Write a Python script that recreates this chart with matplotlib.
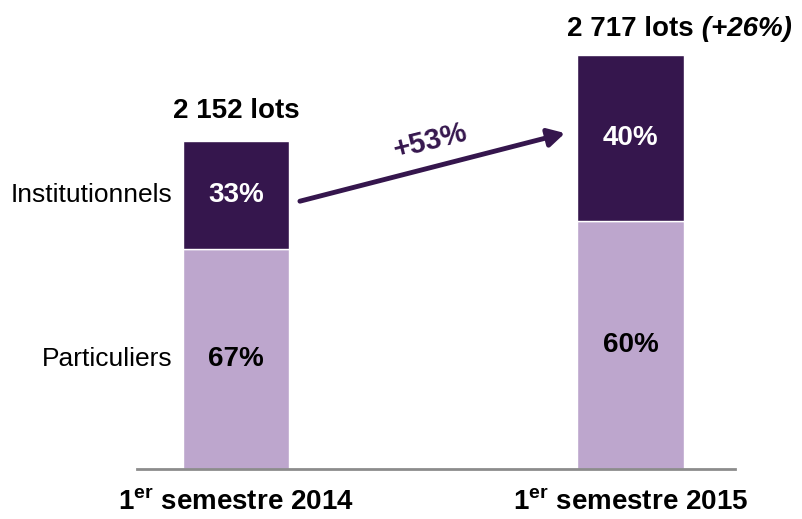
import matplotlib
matplotlib.use("Agg")
import matplotlib.pyplot as plt

plt.rcParams['font.family'] = ['Liberation Sans', 'DejaVu Sans']
plt.rcParams['mathtext.fontset'] = 'custom'
plt.rcParams['mathtext.rm'] = 'Liberation Sans:bold'
plt.rcParams['mathtext.bf'] = 'Liberation Sans:bold'

# Data
periods = ["1$^{\\mathrm{er}}$ semestre 2014", "1$^{\\mathrm{er}}$ semestre 2015"]
totals = [2152, 2717]
total_labels = ["2 152 lots", "2 717 lots"]
growth_total = " (+26%)"
pct_institutionnels = [33, 40]
pct_particuliers = [67, 60]
segments = ["Particuliers", "Institutionnels"]
growth_inst = "+53%"

DARK = "#35164D"
LIGHT = "#BDA6CD"

fig = plt.figure(figsize=(8.02, 5.19), dpi=100)
ax = fig.add_axes([137/802, 50/519, 598/802, 457/519])

x = [0, 1]
part_vals = [t * p / 100 for t, p in zip(totals, pct_particuliers)]
inst_vals = [t * p / 100 for t, p in zip(totals, pct_institutionnels)]
w = 0.269
ax.bar(x, part_vals, width=w, color=LIGHT, edgecolor='white', linewidth=1)
ax.bar(x, inst_vals, width=w, bottom=part_vals, color=DARK, edgecolor='white', linewidth=1)

ax.set_xlim(-0.251, 1.265)
ax.set_ylim(0, 3000)

for s in ['top', 'right', 'left']:
    ax.spines[s].set_visible(False)
ax.spines['bottom'].set_color('#8C8C8C')
ax.spines['bottom'].set_linewidth(2)
ax.set_yticks([])
ax.set_xticks(x)
ax.set_xticklabels(periods, fontsize=20, fontweight='bold')
ax.tick_params(axis='x', length=0, pad=15)

# percentage labels
for i in x:
    ax.text(i, part_vals[i] / 2, f"{pct_particuliers[i]}%", ha='center', va='center',
            fontsize=20, fontweight='bold', color='black')
    ax.text(i, part_vals[i] + inst_vals[i] / 2, f"{pct_institutionnels[i]}%", ha='center',
            va='center', fontsize=20, fontweight='bold', color='white')

# segment names
ax.text(-0.162, part_vals[0] / 2, segments[0], ha='right', va='center', fontsize=19)
ax.text(-0.162, part_vals[0] + inst_vals[0] / 2, segments[1], ha='right', va='center', fontsize=19)

# totals
ax.annotate(total_labels[0], (0, totals[0]), xytext=(0, 22), textcoords='offset points',
            ha='center', va='center', fontsize=20, fontweight='bold')
t2 = ax.annotate(total_labels[1], (1, totals[1]), xytext=(0, 19), textcoords='offset points',
                 ha='center', va='center', fontsize=20, fontweight='bold')
ax.annotate(growth_total, (1, 0.5), xycoords=t2, ha='left', va='center',
            fontsize=20, fontweight='bold', style='italic')

# arrow
ax.annotate("", xy=(0.834, 2205), xytext=(0.162, 1758),
            arrowprops=dict(arrowstyle='-|>,head_length=1.0,head_width=0.55',
                            color=DARK, lw=3.5, shrinkA=0, shrinkB=0))
ax.text(0.492, 2150, growth_inst, ha='center', va='center', rotation=14,
        fontsize=21, fontweight='bold', color=DARK)

fig.savefig("out.png", dpi=100)
